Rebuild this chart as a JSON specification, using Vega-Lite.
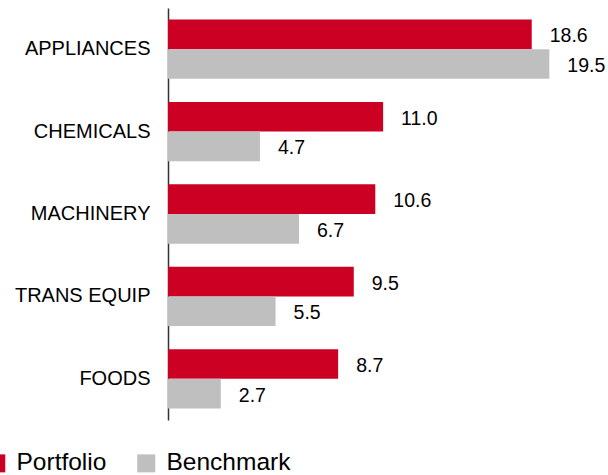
{
  "$schema": "https://vega.github.io/schema/vega-lite/v6.json",
  "width": 440,
  "height": 412,
  "autosize": {"type": "none"},
  "padding": {"left": 168, "top": 8, "right": 0, "bottom": 55},
  "config": {"view": {"stroke": null}, "font": "Liberation Sans"},
  "data": {
    "values": [
      {"sector": "APPLIANCES", "series": "Portfolio", "value": 18.6},
      {"sector": "APPLIANCES", "series": "Benchmark", "value": 19.5},
      {"sector": "CHEMICALS", "series": "Portfolio", "value": 11.0},
      {"sector": "CHEMICALS", "series": "Benchmark", "value": 4.7},
      {"sector": "MACHINERY", "series": "Portfolio", "value": 10.6},
      {"sector": "MACHINERY", "series": "Benchmark", "value": 6.7},
      {"sector": "TRANS EQUIP", "series": "Portfolio", "value": 9.5},
      {"sector": "TRANS EQUIP", "series": "Benchmark", "value": 5.5},
      {"sector": "FOODS", "series": "Portfolio", "value": 8.7},
      {"sector": "FOODS", "series": "Benchmark", "value": 2.7}
    ]
  },
  "encoding": {
    "y": {
      "field": "sector",
      "type": "nominal",
      "sort": ["APPLIANCES", "CHEMICALS", "MACHINERY", "TRANS EQUIP", "FOODS"],
      "scale": {"paddingInner": 0.28, "paddingOuter": 0.14},
      "axis": {
        "title": null,
        "ticks": false,
        "labelFontSize": 20,
        "labelPadding": 18,
        "labelColor": "#000000",
        "domainColor": "#333333",
        "domainWidth": 1.5
      }
    },
    "yOffset": {"field": "series", "type": "nominal", "sort": ["Portfolio", "Benchmark"]},
    "x": {"field": "value", "type": "quantitative", "scale": {"domain": [0, 22.5]}, "axis": null}
  },
  "layer": [
    {
      "mark": {"type": "bar"},
      "encoding": {
        "color": {
          "field": "series",
          "type": "nominal",
          "scale": {"domain": ["Portfolio", "Benchmark"], "range": ["#CC0022", "#BFBFBF"]},
          "legend": {
            "orient": "none",
            "legendX": -184,
            "legendY": 443,
            "direction": "horizontal",
            "title": null,
            "symbolType": "square",
            "symbolSize": 324,
            "symbolStrokeWidth": 0,
            "labelFontSize": 24.5,
            "labelColor": "#000000",
            "labelOffset": 8,
            "columnPadding": 27,
            "encode": {
              "symbols": {
                "update": {
                  "fill": {"signal": "datum.value === 'Benchmark' ? '#D9D9D9' : '#CC0022'"}
                }
              }
            }
          }
        }
      }
    },
    {
      "mark": {"type": "text", "align": "left", "dx": 18, "dy": 2, "fontSize": 19.5, "color": "#000000"},
      "encoding": {"text": {"field": "value", "type": "quantitative", "format": ".1f"}}
    }
  ]
}
